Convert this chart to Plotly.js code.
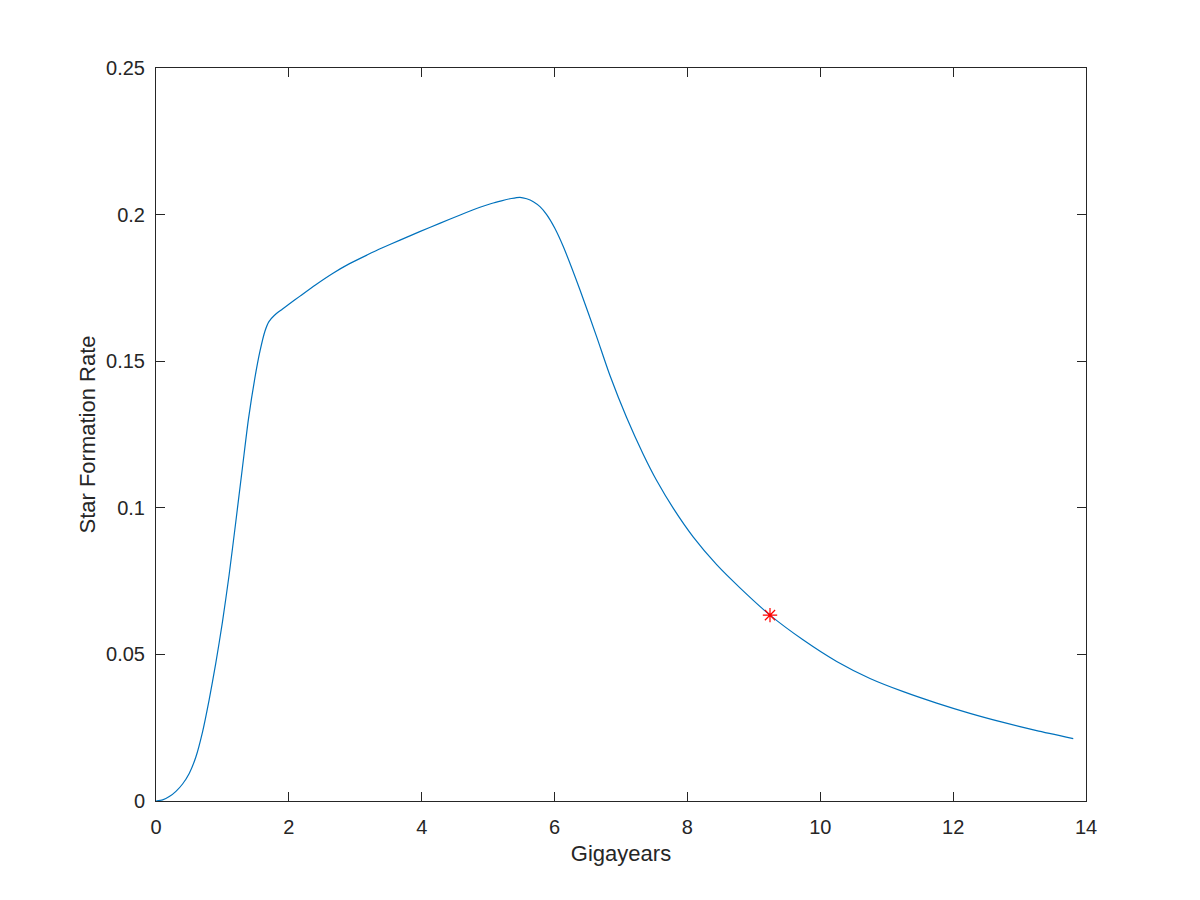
<!DOCTYPE html>
<html>
<head>
<meta charset="utf-8">
<script src="https://cdn.plot.ly/plotly-3.0.1.min.js"></script>
<style>html,body{margin:0;padding:0;background:#fff;}</style>
</head>
<body>
<div id="chart" style="width:1200px;height:900px;"></div>
<script>
// Star formation rate vs time (Gigayears)
const gigayears = [0, 0.1, 0.2, 0.3, 0.4, 0.5, 0.6, 0.7, 0.8, 0.9, 1.0, 1.1, 1.2, 1.3, 1.39, 1.49, 1.566, 1.641, 1.7, 1.78, 1.9, 2.0, 2.168, 2.4, 2.665, 2.9, 3.176, 3.4, 3.673, 3.97, 4.27, 4.57, 4.877, 5.05, 5.2, 5.35, 5.479, 5.58, 5.68, 5.78, 5.881, 6.0, 6.131, 6.383, 6.634, 6.834, 7.086, 7.336, 7.537, 7.788, 8.089, 8.44, 8.791, 9.243, 9.745, 10.247, 10.748, 11.25, 11.752, 12.253, 12.755, 13.257, 13.808];
const sfr = [0, 0.0004, 0.0015, 0.0033, 0.0058, 0.0094, 0.0150, 0.0235, 0.0345, 0.0470, 0.0610, 0.0770, 0.0950, 0.1135, 0.1300, 0.1445, 0.1535, 0.1603, 0.1635, 0.1656, 0.1677, 0.1694, 0.1722, 0.1760, 0.1800, 0.1831, 0.1862, 0.1886, 0.1913, 0.1942, 0.1970, 0.1998, 0.2025, 0.2038, 0.2047, 0.2055, 0.2059, 0.2054, 0.2044, 0.2027, 0.2000, 0.1955, 0.1891, 0.1743, 0.1583, 0.1451, 0.1307, 0.1182, 0.1093, 0.0998, 0.0900, 0.0806, 0.0727, 0.0634, 0.0549, 0.0476, 0.0418, 0.0373, 0.0334, 0.0299, 0.0268, 0.0240, 0.0213];
const markerX = [9.243];
const markerY = [0.0634];
const xTitle = "Gigayears";
const yTitle = "Star Formation Rate";

const axisColor = "#262626";
const fontFam = "Liberation Sans, Arial, Helvetica, sans-serif";

const traces = [
  {
    x: gigayears, y: sfr, type: "scatter", mode: "lines",
    line: {color: "#0072BD", width: 1.2, shape: "spline", smoothing: 0.6},
    hoverinfo: "skip"
  },
  {
    x: markerX, y: markerY, type: "scatter", mode: "markers",
    marker: {symbol: "asterisk-open", color: "#FF0000", size: 12, line: {color: "#FF0000", width: 1.2}},
    hoverinfo: "skip"
  }
];

const axisCommon = {
  showline: true, linecolor: axisColor, linewidth: 1, mirror: "ticks",
  ticks: "inside", ticklen: 9, tickcolor: axisColor, tickwidth: 1,
  showgrid: false, zeroline: false,
  tickfont: {family: fontFam, size: 20, color: axisColor}
};

const layout = {
  width: 1200, height: 900,
  paper_bgcolor: "#ffffff", plot_bgcolor: "#ffffff",
  margin: {l: 156, r: 114, t: 68, b: 99, pad: 0},
  showlegend: false,
  xaxis: Object.assign({}, axisCommon, {
    range: [0, 14], dtick: 2, tick0: 0, ticklabelstandoff: 8,
    title: {text: xTitle, font: {family: fontFam, size: 22, color: axisColor}, standoff: 8}
  }),
  yaxis: Object.assign({}, axisCommon, {
    range: [0, 0.25], dtick: 0.05, tick0: 0, ticklabelstandoff: 6,
    title: {text: yTitle, font: {family: fontFam, size: 22, color: axisColor}, standoff: 4}
  })
};

Plotly.newPlot("chart", traces, layout, {displayModeBar: false, staticPlot: true});
</script>
</body>
</html>
